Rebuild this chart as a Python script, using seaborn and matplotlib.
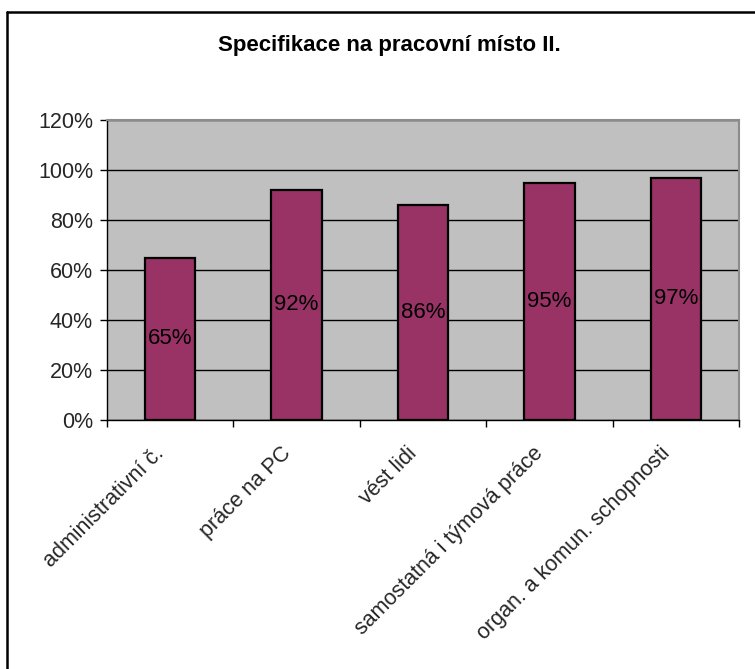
import matplotlib
matplotlib.use("Agg")
import matplotlib.pyplot as plt
from matplotlib.lines import Line2D
from matplotlib.ticker import PercentFormatter, FixedLocator
import matplotlib.transforms as mtransforms
import seaborn as sns
import pandas as pd

# Chart data
categories = [
    "administrativní č.",
    "práce na PC",
    "vést lidi",
    "samostatná i týmová práce",
    "organ. a komun. schopnosti",
]
shares = [0.65, 0.92, 0.86, 0.95, 0.97]
y_ticks = [0.0, 0.2, 0.4, 0.6, 0.8, 1.0, 1.2]
title = "Specifikace na pracovní místo II."

sns.set_theme(style="white")
plt.rcParams["font.family"] = ["Liberation Sans", "DejaVu Sans"]

W, H = 755, 669
fig = plt.figure(figsize=(W / 100, H / 100), dpi=100)
fig.patch.set_facecolor("white")

# plot area in pixel coordinates
left, right, top, bottom = 107, 739, 120, 420
ax = fig.add_axes([left / W, 1 - bottom / H, (right - left) / W, (bottom - top) / H])
ax.set_facecolor("#C0C0C0")

df = pd.DataFrame({"kategorie": categories, "podil": shares})
sns.barplot(data=df, x="kategorie", y="podil", color="#993366",
            saturation=1, edgecolor="black", linewidth=1.6, width=0.4, ax=ax, zorder=3)

ax.set_ylim(0, 1.2)
ax.set_xlim(-0.5, len(categories) - 0.5)
ax.yaxis.set_major_locator(FixedLocator(y_ticks))
ax.yaxis.set_major_formatter(PercentFormatter(1.0, decimals=0))
ax.grid(axis="y", color="black", linewidth=1.0, zorder=0)
ax.set_axisbelow(True)
ax.set_xlabel("")
ax.set_ylabel("")

ax.tick_params(axis="y", direction="out", length=5, width=1, color="black",
               labelsize=15.5, pad=5, left=True)
ax.tick_params(axis="x", which="major", length=0, labelsize=15.5, pad=22)
ax.set_xticks([i - 0.5 for i in range(len(categories) + 1)], minor=True)
ax.tick_params(axis="x", which="minor", direction="out", length=5, width=1,
               color="black", bottom=True)
shift = mtransforms.ScaledTranslation(-9 / 100, 0, fig.dpi_scale_trans)
for lbl in ax.get_xticklabels():
    lbl.set_rotation(45)
    lbl.set_ha("right")
    lbl.set_va("center")
    lbl.set_rotation_mode("anchor")
    lbl.set_transform(lbl.get_transform() + shift)

for side in ("top", "right"):
    ax.spines[side].set_color("#8c8c8c")
    ax.spines[side].set_linewidth(1.5)
for side in ("left", "bottom"):
    ax.spines[side].set_color("black")
    ax.spines[side].set_linewidth(1.0)

for cont in ax.containers:
    ax.bar_label(cont, fmt="{:.0%}", label_type="center", fontsize=16, color="black")

fig.text(389 / W, 1 - 46 / H, title, ha="center", va="center",
         fontsize=16, fontweight="bold", color="black")

# chart frame (top and left edges)
fig.add_artist(Line2D([7 / W, 1.0], [1 - 12 / H, 1 - 12 / H], transform=fig.transFigure,
                      color="black", linewidth=1.8))
fig.add_artist(Line2D([7 / W, 7 / W], [1 - 12 / H, 0.0], transform=fig.transFigure,
                      color="black", linewidth=1.8))

fig.savefig("out.png", dpi=100)
